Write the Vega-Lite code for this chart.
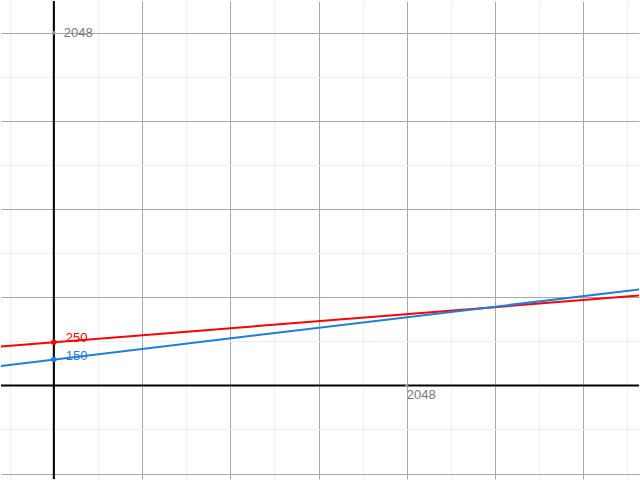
{
  "$schema": "https://vega.github.io/schema/vega-lite/v6.json",
  "width": 640,
  "height": 480,
  "autosize": {"type": "fit", "contains": "padding"},
  "padding": 0,
  "background": "white",
  "config": {"view": {"stroke": null}},
  "datasets": {
    "axes": [
      {"x1": -306.6, "x2": 3396, "y1": 0, "y2": 0},
      {"x1": 0, "x2": 0, "y1": -543.8, "y2": 2233}
    ],
    "lines": [
      {"series": "red", "x": -320, "y": 224.4},
      {"series": "red", "x": 3400, "y": 522},
      {"series": "blue", "x": -320, "y": 111.6},
      {"series": "blue", "x": 3400, "y": 558}
    ],
    "points": [
      {"series": "red", "x": 0, "y": 250, "label": "250"},
      {"series": "blue", "x": 0, "y": 150, "label": "150"}
    ],
    "ticks": [
      {"x": 0, "y": 2048, "label": "2048", "kind": "y"},
      {"x": 2048, "y": 0, "label": "2048", "kind": "x"}
    ]
  },
  "layer": [
    {
      "data": {"name": "axes"},
      "mark": {"type": "rule", "color": "#000000", "strokeWidth": 2},
      "encoding": {
        "x": {
          "field": "x1", "type": "quantitative",
          "scale": {"domain": [-306.6, 3396], "nice": false, "zero": false},
          "axis": {
            "labels": false, "ticks": false, "domain": false, "title": null,
            "grid": true, "gridWidth": 1,
            "gridColor": {"condition": {"test": "datum.value % 512 === 0", "value": "#a8a8a8"}, "value": "#efefef"},
            "values": [-256,-128,0,128,256,384,512,640,768,896,1024,1152,1280,1408,1536,1664,1792,1920,2048,2176,2304,2432,2560,2688,2816,2944,3072,3200,3328]
          }
        },
        "x2": {"field": "x2"},
        "y": {
          "field": "y1", "type": "quantitative",
          "scale": {"domain": [-543.8, 2233], "nice": false, "zero": false},
          "axis": {
            "labels": false, "ticks": false, "domain": false, "title": null,
            "grid": true, "gridWidth": 1,
            "gridColor": {"condition": {"test": "datum.value % 512 === 0", "value": "#a8a8a8"}, "value": "#efefef"},
            "values": [-512,-384,-256,-128,0,128,256,384,512,640,768,896,1024,1152,1280,1408,1536,1664,1792,1920,2048,2176]
          }
        },
        "y2": {"field": "y2"}
      }
    },
    {
      "data": {"name": "lines"},
      "mark": {"type": "line", "strokeWidth": 2, "clip": true},
      "encoding": {
        "x": {"field": "x", "type": "quantitative"},
        "y": {"field": "y", "type": "quantitative"},
        "color": {"field": "series", "type": "nominal", "scale": {"domain": ["red", "blue"], "range": ["#ff0000", "#1f7fd6"]}, "legend": null}
      }
    },
    {
      "data": {"name": "points"},
      "mark": {"type": "point", "filled": true, "size": 30, "opacity": 1},
      "encoding": {
        "x": {"field": "x", "type": "quantitative"},
        "y": {"field": "y", "type": "quantitative"},
        "color": {"field": "series", "type": "nominal", "legend": null}
      }
    },
    {
      "data": {"name": "points"},
      "mark": {"type": "text", "align": "left", "baseline": "middle", "dx": 12, "dy": -4, "fontSize": 13, "font": "Liberation Sans"},
      "encoding": {
        "x": {"field": "x", "type": "quantitative"},
        "y": {"field": "y", "type": "quantitative"},
        "text": {"field": "label"},
        "color": {"field": "series", "type": "nominal", "legend": null}
      }
    },
    {
      "data": {"name": "ticks"},
      "mark": {"type": "point", "filled": true, "size": 12, "color": "#999999", "opacity": 1},
      "encoding": {
        "x": {"field": "x", "type": "quantitative"},
        "y": {"field": "y", "type": "quantitative"}
      }
    },
    {
      "data": {"name": "ticks"},
      "transform": [{"filter": "datum.kind === 'y'"}],
      "mark": {"type": "text", "align": "left", "baseline": "middle", "dx": 10, "fontSize": 13, "font": "Liberation Sans", "color": "#777777"},
      "encoding": {
        "x": {"field": "x", "type": "quantitative"},
        "y": {"field": "y", "type": "quantitative"},
        "text": {"field": "label"}
      }
    },
    {
      "data": {"name": "ticks"},
      "transform": [{"filter": "datum.kind === 'x'"}],
      "mark": {"type": "text", "align": "left", "baseline": "top", "dx": 0, "dy": 4, "fontSize": 13, "font": "Liberation Sans", "color": "#777777"},
      "encoding": {
        "x": {"field": "x", "type": "quantitative"},
        "y": {"field": "y", "type": "quantitative"},
        "text": {"field": "label"}
      }
    }
  ]
}
